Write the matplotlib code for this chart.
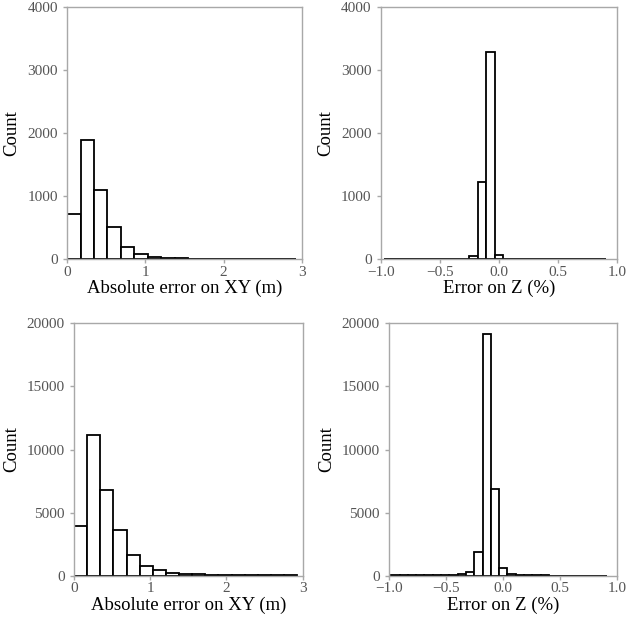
import numpy as np
import matplotlib.pyplot as plt

plt.rcParams["font.family"] = ["Liberation Serif", "DejaVu Serif"]

# bin edges and counts
xy_edges = np.linspace(0.0, 2.93, 18)
xy_counts_top = [720, 1900, 1100, 518, 200, 80, 40, 28, 15, 10, 8, 5, 4, 3, 3, 2, 2]
xy_counts_bottom = [3960, 11180, 6760, 3620, 1660, 800, 420, 240, 160, 110,
                    80, 60, 45, 35, 28, 20, 15]

z_edges_top = np.linspace(-0.97, 0.90, 27)
z_counts_top = [4, 3, 2, 2, 4, 3, 2, 3, 5, 10, 55, 1230, 3296, 70, 8, 4,
                2, 2, 1, 1, 1, 1, 1, 2, 4, 2]
z_edges_bottom = np.linspace(-0.98, 0.91, 27)
z_counts_bottom = [20, 20, 25, 30, 30, 35, 40, 60, 110, 317, 1850, 19130, 6870,
                   634, 130, 50, 30, 20, 15, 10, 8, 6, 5, 4, 3, 2]

xy_label = "Absolute error on XY (m)"
z_label = "Error on Z (%)"

fig = plt.figure(figsize=(6.28, 6.26), dpi=100)
grey = "#a8a8a8"


def draw_hist(rect, edges, counts, xlim, ymax, xticks, xticklabels, xlabel):
    ax = fig.add_axes(rect)
    ax.bar(edges[:-1], counts, width=np.diff(edges), align="edge",
           color="white", edgecolor="black", linewidth=1.3)
    ax.set_xlim(*xlim)
    ax.set_ylim(0, ymax)
    ax.set_xticks(xticks)
    ax.set_xticklabels(xticklabels)
    ax.set_yticks(np.linspace(0, ymax, 5))
    ax.set_yticklabels([str(int(v)) for v in np.linspace(0, ymax, 5)])
    for sp in ax.spines.values():
        sp.set_color(grey)
        sp.set_linewidth(1.0)
    ax.tick_params(colors=grey, labelcolor="#555555", labelsize=11, length=3,
                   width=1.0)
    ax.tick_params(axis="x", pad=1.5)
    ax.tick_params(axis="y", pad=3.5)
    ax.set_xlabel(xlabel, fontsize=13.5, labelpad=1)
    ax.set_ylabel("Count", fontsize=13.5, labelpad=5)
    return ax


xy_ticks = [0, 1, 2, 3]
z_ticks = [-1.0, -0.5, 0.0, 0.5, 1.0]
z_ticklabels = ["\u22121.0", "\u22120.5", "0.0", "0.5", "1.0"]

draw_hist([0.1067, 0.5858, 0.374, 0.4025], xy_edges, xy_counts_top, (0, 3), 4000,
          xy_ticks, [str(t) for t in xy_ticks], xy_label)
draw_hist([0.6062, 0.5858, 0.377, 0.4025], z_edges_top, z_counts_top, (-1, 1), 4000,
          z_ticks, z_ticklabels, z_label)
draw_hist([0.1178, 0.0804, 0.364, 0.403], xy_edges, xy_counts_bottom, (0, 3), 20000,
          xy_ticks, [str(t) for t in xy_ticks], xy_label)
draw_hist([0.6194, 0.0804, 0.3636, 0.403], z_edges_bottom, z_counts_bottom, (-1, 1), 20000,
          z_ticks, z_ticklabels, z_label)

fig.savefig("out.png", dpi=100)
